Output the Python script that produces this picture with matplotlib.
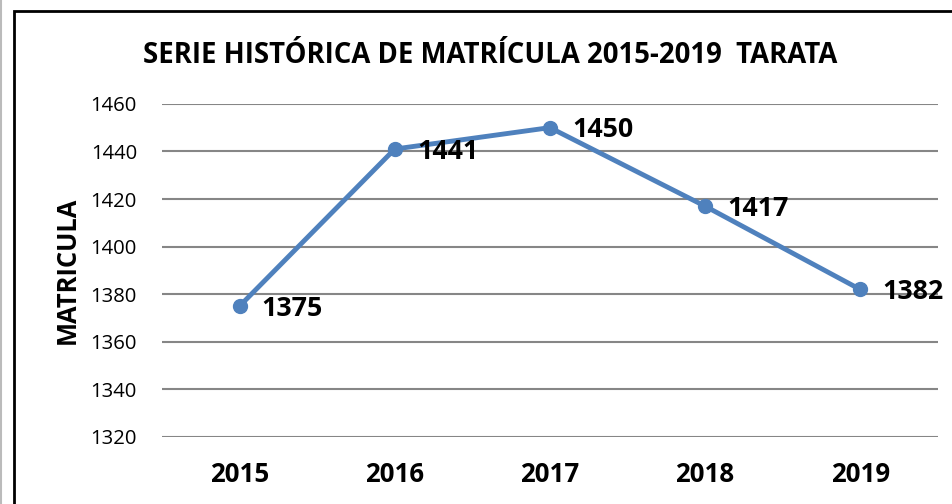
import matplotlib.pyplot as plt
from matplotlib.patches import Rectangle

years = ['2015', '2016', '2017', '2018', '2019']
matricula = [1375, 1441, 1450, 1417, 1382]
yticks = [1320, 1340, 1360, 1380, 1400, 1420, 1440, 1460]

plt.rcParams['font.family'] = ['Open Sans', 'DejaVu Sans']

fig = plt.figure(figsize=(9.53, 5.04), dpi=100)
ax = fig.add_axes([0.170, 0.133, 0.814, 0.661])

x = list(range(len(years)))
ax.plot(x, matricula, color='#4F81BD', lw=3.5, marker='o', ms=10, zorder=3)
for xi, v in zip(x, matricula):
    ax.annotate(str(v), (xi, v), xytext=(16, -2), textcoords='offset points',
                ha='left', va='center', fontsize=19.3, fontweight='bold')

ax.set_xlim(-0.5, 4.5)
ax.set_ylim(1320, 1460)
ax.set_yticks(yticks)
ax.set_xticks(x)
ax.set_xticklabels(years, fontsize=18.6, fontweight='bold')
ax.tick_params(axis='y', labelsize=14.6, length=0, pad=18)
ax.tick_params(axis='x', length=0, pad=17)
ax.grid(axis='y', color='#868686', lw=1.5)
ax.set_axisbelow(True)
for s in ax.spines.values():
    s.set_visible(False)

ax.set_ylabel('MATRICULA', fontsize=18.4, fontweight='bold', labelpad=7)
fig.text(0.514, 0.89, 'SERIE HISTÓRICA DE MATRÍCULA 2015-2019  TARATA',
         ha='center', va='center', fontsize=19.8, fontweight='bold')

# chart frame
fig.patches.append(Rectangle((14 / 953, -0.1), 1.1, 1.1 - 11 / 504,
                             transform=fig.transFigure, fill=False,
                             edgecolor='black', lw=2))
fig.add_artist(plt.Line2D([1 / 953, 1 / 953], [0, 1], color='#BBBBBB', lw=1.5,
                          transform=fig.transFigure))

fig.savefig('out.png', dpi=100)
